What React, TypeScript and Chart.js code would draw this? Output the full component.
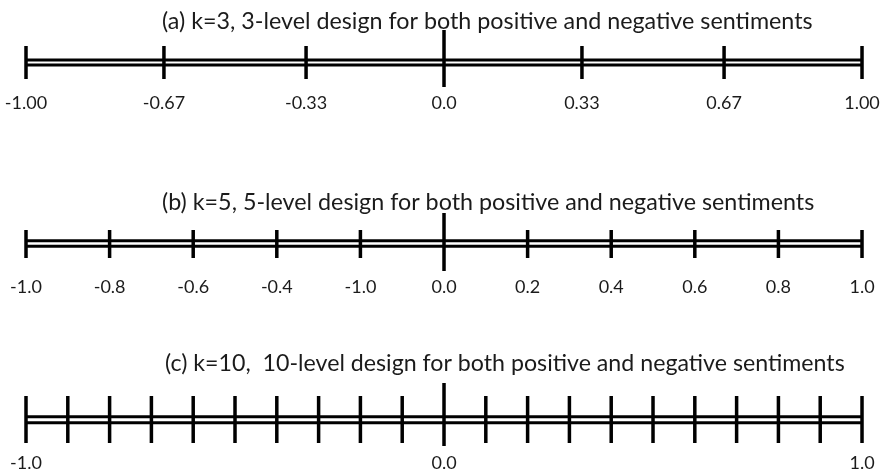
import React, { useEffect, useRef } from "react";
import { Chart, registerables } from "chart.js";

Chart.register(...registerables);

// ---- data ----
const titleA = "(a) k=3, 3-level design for both positive and negative sentiments";
const titleB = "(b) k=5, 5-level design for both positive and negative sentiments";
const titleC = "(c) k=10,  10-level design for both positive and negative sentiments";

const ticksA = [-1.0, -0.67, -0.33, 0.0, 0.33, 0.67, 1.0];
const labelsA = ["-1.00", "-0.67", "-0.33", "0.0", "0.33", "0.67", "1.00"];

const ticksB = [-1.0, -0.8, -0.6, -0.4, -0.2, 0.0, 0.2, 0.4, 0.6, 0.8, 1.0];
const labelsB = ["-1.0", "-0.8", "-0.6", "-0.4", "-1.0", "0.0", "0.2", "0.4", "0.6", "0.8", "1.0"];

const ticksC = [
  -1.0, -0.9, -0.8, -0.7, -0.6, -0.5, -0.4, -0.3, -0.2, -0.1, 0.0,
  0.1, 0.2, 0.3, 0.4, 0.5, 0.6, 0.7, 0.8, 0.9, 1.0,
];
const labeledC = [-1.0, 0.0, 1.0];
const labelsC = ["-1.0", "0.0", "1.0"];

const rangeMin = -1.0;
const rangeMax = 1.0;

// ---- layout (pixel rows; y axis runs 0..476 top-down) ----
const ROWS = [
  { title: titleA, titleX: 162, titleW: 651, titleY: 21, rails: [60, 65], tick: [46, 79], center: [30, 87], labelY: 103, ticks: ticksA, labelVals: ticksA, labels: labelsA },
  { title: titleB, titleX: 162, titleW: 653, titleY: 202, rails: [240.8, 246.3], tick: [230, 258], center: [213, 271], labelY: 287, ticks: ticksB, labelVals: ticksB, labels: labelsB },
  { title: titleC, titleX: 165, titleW: 680, titleY: 364, rails: [416.7, 422.7], tick: [396, 443], center: [383, 446], labelY: 463, ticks: ticksC, labelVals: labeledC, labels: labelsC },
];

const W = 882;
const H = 476;
const FONT = "Lato, 'Open Sans', sans-serif";
const TEXT_COLOR = "#1b1b1b";

export default function App() {
  const ref = useRef<HTMLCanvasElement | null>(null);

  useEffect(() => {
    const canvas = ref.current;
    if (!canvas) return;

    const datasets: any[] = [];
    ROWS.forEach((row) => {
      row.rails.forEach((ry) => {
        datasets.push({
          data: [
            { x: rangeMin, y: ry },
            { x: rangeMax, y: ry },
          ],
          borderColor: "#000",
          borderWidth: 3,
          pointRadius: 0,
          borderCapStyle: "butt",
        });
      });
      const pts: any[] = [];
      row.ticks.forEach((v) => {
        const span = v === 0 ? row.center : row.tick;
        pts.push({ x: v, y: span[0] });
        pts.push({ x: v, y: span[1] });
        pts.push({ x: v, y: null });
      });
      datasets.push({
        data: pts,
        borderColor: "#000",
        borderWidth: 3.5,
        pointRadius: 0,
        spanGaps: false,
        borderCapStyle: "butt",
      });
    });

    const textPlugin = {
      id: "textPlugin",
      afterDatasetsDraw(chart: any) {
        const ctx = chart.ctx;
        const xs = chart.scales.x;
        const ys = chart.scales.y;
        ctx.save();
        ctx.fillStyle = TEXT_COLOR;
        ROWS.forEach((row) => {
          ctx.font = `20px ${FONT}`;
          const measured = ctx.measureText(row.title).width || 1;
          const size = Math.round(20 * (row.titleW / measured) * 10) / 10;
          ctx.font = `${size}px ${FONT}`;
          ctx.textAlign = "left";
          ctx.textBaseline = "middle";
          ctx.fillText(row.title, row.titleX, ys.getPixelForValue(row.titleY));
          ctx.font = `18px ${FONT}`;
          ctx.textAlign = "center";
          row.labelVals.forEach((v, i) => {
            ctx.fillText(row.labels[i], xs.getPixelForValue(v), ys.getPixelForValue(row.labelY));
          });
        });
        ctx.restore();
      },
    };

    const chart = new Chart(canvas, {
      type: "line",
      data: { datasets },
      options: {
        animation: false,
        responsive: false,
        maintainAspectRatio: false,
        layout: { padding: 0 },
        plugins: { legend: { display: false }, tooltip: { enabled: false }, title: { display: false } },
        events: [],
        scales: {
          x: { type: "linear", min: -1.0622, max: 1.0478, display: false },
          y: { type: "linear", min: 0, max: H, reverse: true, display: false },
        },
      },
      plugins: [textPlugin],
    });
    return () => chart.destroy();
  }, []);

  return (
    <div style={{ position: "fixed", left: 0, top: 0, width: W, height: H, background: "#fff" }}>
      <canvas ref={ref} width={W} height={H} style={{ display: "block", width: W, height: H }} />
    </div>
  );
}
